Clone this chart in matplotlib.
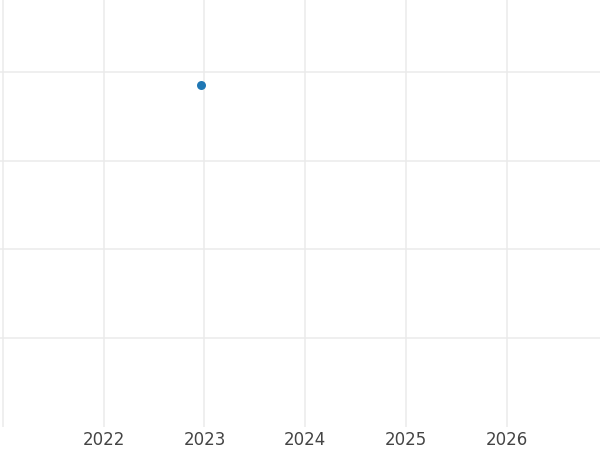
import numpy as np
import matplotlib
matplotlib.use("Agg")
import matplotlib.pyplot as plt

# data (y axis has no labels, units arbitrary)
dates = [2022.97]
values = [3.855]
year_ticks = [2021, 2022, 2023, 2024, 2025, 2026]
year_labels = ["", "2022", "2023", "2024", "2025", "2026"]
y_ticks = [1, 2, 3, 4]

fig = plt.figure(figsize=(6, 4.5), dpi=100)
ax = fig.add_axes([0.0, 0.051, 1.0, 0.949])

ax.scatter(dates, values, s=42, color="#1f77b4", zorder=3, linewidths=0)

ax.set_xlim(2020.974, 2026.92)
ax.set_ylim(0, 4.81)
ax.set_xticks(year_ticks)
ax.set_xticklabels(year_labels)
ax.set_yticks(y_ticks)
ax.set_yticklabels([])

ax.grid(True, color="#ebebeb", linewidth=1.1)
ax.set_axisbelow(True)
for s in ax.spines.values():
    s.set_visible(False)
ax.tick_params(axis="both", length=0)
ax.tick_params(axis="x", labelsize=12, labelcolor="#444444", pad=3)

fig.savefig("out.png", dpi=100)
